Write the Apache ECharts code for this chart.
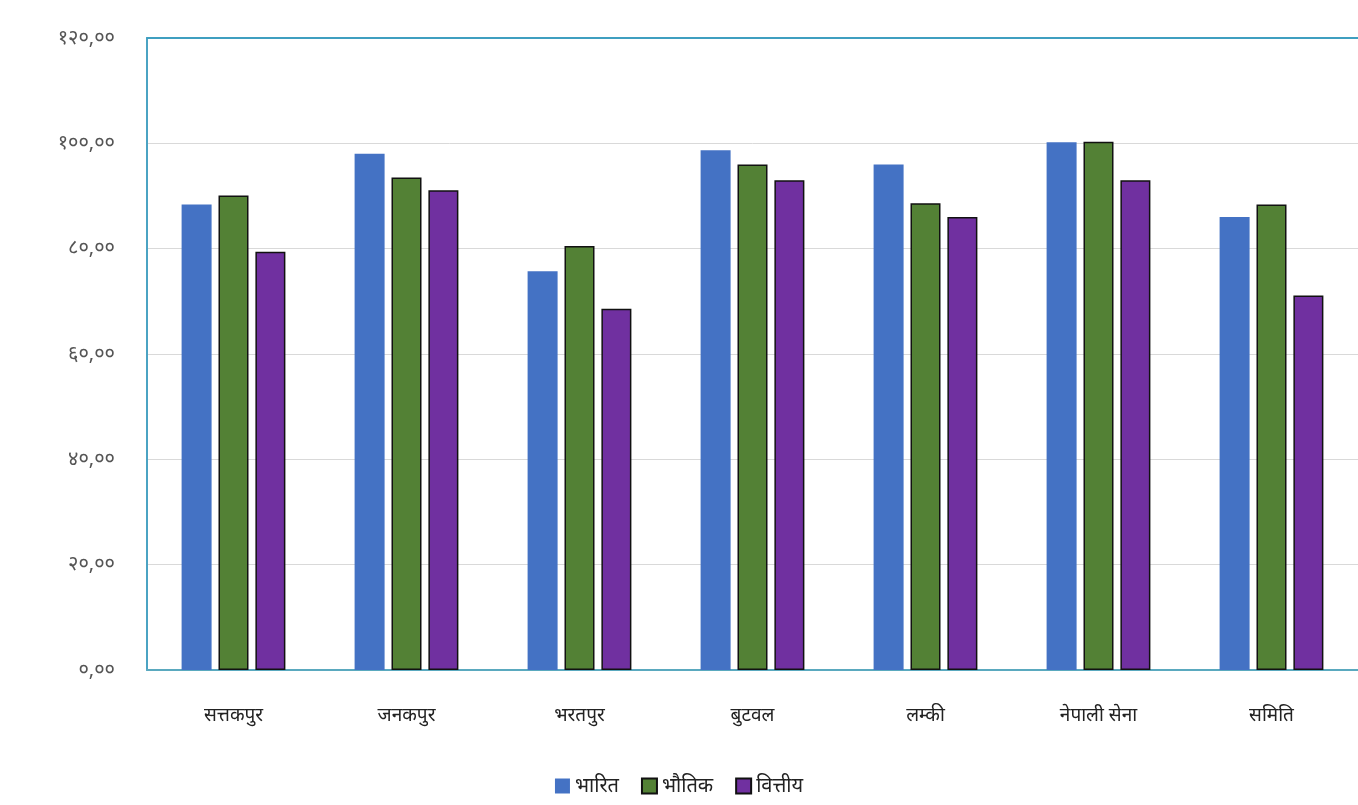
<!DOCTYPE html>
<html><head><meta charset="utf-8">
<script src="https://cdn.jsdelivr.net/npm/echarts@6/dist/echarts.min.js"></script>
<style>html,body{margin:0;padding:0;background:#fff}#c{width:1358px;height:805px}</style>
</head><body><div id="c"></div>
<script>
const categories = ['सत्तकपुर','जनकपुर','भरतपुर','बुटवल','लम्की','नेपाली सेना','समिति'];
const seriesNames = ['भारित','भौतिक','वित्तीय'];
const bharit   = [88.4, 98.0, 75.7, 98.7, 96.0, 100.2, 86.0];
const bhautik  = [90.1, 93.5, 80.5, 96.0, 88.6, 100.3, 88.4];
const bittiya  = [79.4, 91.1, 68.6, 93.0, 86.0, 93.0, 71.1];
const yTickLabels = ['०,००','२०,००','४०,००','६०,००','८०,००','१००,००','१२०,००'];

const FONT = '"Noto Sans", "DejaVu Sans", sans-serif';
const chart = echarts.init(document.getElementById('c'), null, {renderer:'canvas'});
const mk = (name, data, color, border) => ({
  name, type:'bar', data, barWidth:30, barGap:'23%',
  itemStyle:{color, borderColor: border ? '#111' : color, borderWidth: border ? 1.5 : 0},
  emphasis:{disabled:true}
});
chart.setOption({
  animation:false,
  backgroundColor:'#fff',
  grid:{left:147, top:38, right:0, bottom:135},
  legend:{
    data:seriesNames, bottom:4, left:'center', itemWidth:15, itemHeight:15, itemGap:22,
    icon:'rect',
    textStyle:{fontFamily:FONT, fontSize:20, color:'#222'}
  },
  xAxis:[{
    type:'category', data:categories,
    axisLine:{lineStyle:{color:'#5aa9bf', width:2}}, axisTick:{show:false},
    axisLabel:{fontFamily:FONT, fontSize:19, color:'#222', margin:36}
  },{
    type:'category', data:categories, position:'top',
    axisLine:{show:true, lineStyle:{color:'#3f9fc0', width:2}}, axisTick:{show:false},
    axisLabel:{show:false}
  }],
  yAxis:{
    type:'value', min:0, max:120, interval:20,
    axisLine:{show:true, lineStyle:{color:'#4ba3c3', width:2}}, axisTick:{show:false},
    splitLine:{lineStyle:{color:'#d9d9d9', width:1}},
    axisLabel:{fontFamily:FONT, fontSize:20, color:'#555', margin:32,
      formatter:(v)=>yTickLabels[Math.round(v/20)]}
  },
  series:[
    mk(seriesNames[0], bharit, '#4472c4', false),
    mk(seriesNames[1], bhautik, '#538135', true),
    mk(seriesNames[2], bittiya, '#7030a0', true)
  ]
});
</script></body></html>
